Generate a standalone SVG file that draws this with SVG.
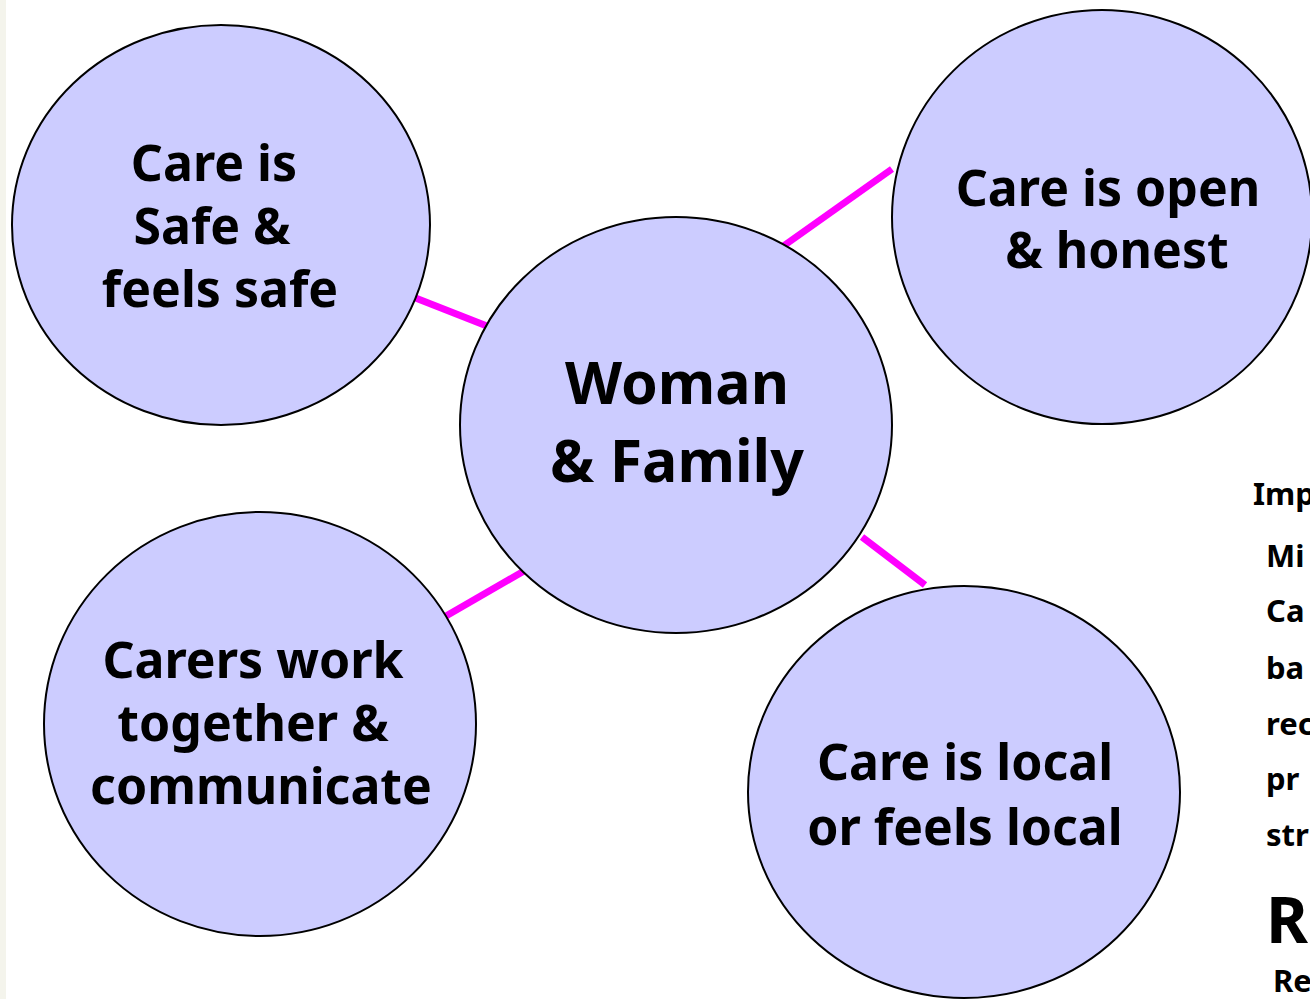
<svg xmlns="http://www.w3.org/2000/svg" width="1310" height="999" viewBox="0 0 1310 999">
<style>
.n{fill:#CCCCFF;stroke:#000;stroke-width:2}
.t{font-family:"Noto Sans","Open Sans","Liberation Sans",sans-serif;font-weight:700;fill:#000;text-anchor:middle;font-size:50px}
.big{font-size:59px}
.r{font-family:"Noto Sans","Open Sans","Liberation Sans",sans-serif;font-weight:700;fill:#000;font-size:31px}
.rb{font-size:64px}
.c{stroke:#FF00FF;stroke-width:7;fill:none}
</style>
<rect x="0" y="0" width="1310" height="999" fill="#fff"/>
<rect x="0" y="0" width="6" height="999" fill="#f4f4ec"/>
<g id="connectors">
<line class="c" x1="413" y1="297" x2="492" y2="328"/>
<line class="c" x1="782" y1="247" x2="892" y2="169"/>
<line class="c" x1="446" y1="616" x2="524" y2="571"/>
<line class="c" x1="862" y1="537" x2="925" y2="585"/>
</g>
<g id="node-safe">
<ellipse class="n" cx="221" cy="225" rx="209" ry="200"/>
<text class="t" x="214" y="181">Care is</text>
<text class="t" x="212" y="244">Safe &amp;</text>
<text class="t" x="220" y="307">feels safe</text>
</g>
<g id="node-woman">
<ellipse class="n" cx="676" cy="425" rx="216" ry="208"/>
<text class="t big" x="677" y="404">Woman</text>
<text class="t big" x="677" y="482">&amp; Family</text>
</g>
<g id="node-open">
<ellipse class="n" cx="1102" cy="217" rx="210" ry="207"/>
<text class="t" x="1108" y="206">Care is open</text>
<text class="t" x="1117" y="268">&amp; honest</text>
</g>
<g id="node-carers">
<ellipse class="n" cx="260" cy="724" rx="216" ry="212"/>
<text class="t" x="253" y="678">Carers work</text>
<text class="t" x="253" y="741">together &amp;</text>
<text class="t" x="261" y="804">communicate</text>
</g>
<g id="node-local">
<ellipse class="n" cx="964" cy="792" rx="216" ry="206"/>
<text class="t" x="965" y="780">Care is local</text>
<text class="t" x="965" y="845">or feels local</text>
</g>
<g id="side-text">
<text class="r" x="1253" y="505">Imp</text>
<text class="r" x="1266" y="567">Mi</text>
<text class="r" x="1266" y="622">Ca</text>
<text class="r" x="1266" y="679">ba</text>
<text class="r" x="1266" y="735">rec</text>
<text class="r" x="1266" y="790">pr</text>
<text class="r" x="1266" y="846">str</text>
<text class="r rb" x="1266" y="943">R</text>
<text class="r" x="1273" y="992">Re</text>
</g>
</svg>
